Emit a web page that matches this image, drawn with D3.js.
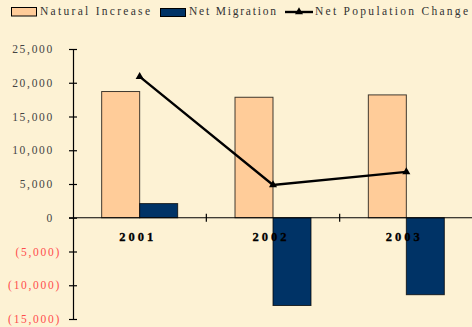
<!DOCTYPE html>
<html><head><meta charset="utf-8">
<script src="https://cdn.jsdelivr.net/npm/d3@7"></script>
<style>
html,body{margin:0;padding:0;background:#FDF2D4;}
svg{display:block;}
text{font-family:"Liberation Serif","Times New Roman",serif;}
</style></head>
<body><svg id="c" width="472" height="327"></svg>
<script>
const categories = ["2001","2002","2003"];
const naturalIncrease = [18700, 17850, 18200];
const netMigration = [2100, -13000, -11400];
const netPopulationChange = [20900, 4850, 6800];
const yTicks = [25000,20000,15000,10000,5000,0,-5000,-10000,-15000];
const seriesNames = ["Natural Increase","Net Migration","Net Population Change"];

const svg = d3.select("#c");
const W = 472, H = 327;
const x0 = 73, x1 = 473;
const y = d3.scaleLinear().domain([-15000,25000]).range([319,49]);
const x = d3.scaleBand().domain(categories).range([x0,x1]).paddingInner(0).paddingOuter(0);
const bw = x.bandwidth()*0.285;

svg.append("rect").attr("width",W).attr("height",H).attr("fill","#FDF2D4");

// bars
const g = svg.append("g");
g.selectAll("rect.ni").data(categories).join("rect")
  .attr("x",d=>x(d)+x.bandwidth()/2-bw).attr("width",bw)
  .attr("y",(d,i)=>y(Math.max(0,naturalIncrease[i])))
  .attr("height",(d,i)=>Math.abs(y(naturalIncrease[i])-y(0)))
  .attr("fill","#FFCC99").attr("stroke","#000").attr("stroke-width",1).attr("stroke-opacity",0.75);
g.selectAll("rect.nm").data(categories).join("rect")
  .attr("x",d=>x(d)+x.bandwidth()/2).attr("width",bw)
  .attr("y",(d,i)=>y(Math.max(0,netMigration[i])))
  .attr("height",(d,i)=>Math.abs(y(netMigration[i])-y(0)))
  .attr("fill","#003366").attr("stroke","#000").attr("stroke-width",1).attr("stroke-opacity",0.75);

// y axis
const yAxis = d3.axisLeft(y).tickValues(yTicks).tickSize(0).tickPadding(0)
  .tickFormat(d=> d<0 ? "("+d3.format(",")(-d)+")" : d3.format(",")(d));
const ya = svg.append("g").attr("transform",`translate(${x0},0)`).call(yAxis);
ya.select(".domain").attr("stroke","#000").attr("stroke-width",1.2);
ya.selectAll(".tick line").attr("x1",-4).attr("x2",4).attr("stroke","#000").attr("stroke-width",1.2);
ya.selectAll(".tick text")
  .attr("x",d=> d<0 ? -12 : -19)
  .attr("dy","0.32em")
  .attr("font-size",11.5)
  .attr("letter-spacing",1.7)
  .attr("font-family","Liberation Serif, serif")
  .attr("fill",d=> d<0 ? "#FF4D4D" : "#444");

// x axis at zero
const xa = svg.append("g").attr("transform",`translate(0,${y(0)})`);
xa.append("line").attr("x1",x0-4).attr("x2",W).attr("stroke","#000").attr("stroke-width",1.2);
xa.selectAll("line.t").data(categories.slice(1)).join("line")
  .attr("x1",d=>x(d)).attr("x2",d=>x(d)).attr("y1",-4).attr("y2",4)
  .attr("stroke","#000").attr("stroke-width",1.2);
svg.selectAll("text.cat").data(categories).join("text")
  .attr("x",d=>x(d)+x.bandwidth()/2 -2).attr("y",241)
  .attr("text-anchor","middle").attr("font-weight","bold").attr("font-size",12.5)
  .attr("letter-spacing",3).attr("fill","#000")
  .attr("stroke","#000").attr("stroke-width",0.3)
  .text(d=>d);

// line
const line = d3.line().x((d,i)=>x(categories[i])+x.bandwidth()/2).y(d=>y(d));
svg.append("path").datum(netPopulationChange).attr("d",line)
  .attr("fill","none").attr("stroke","#000").attr("stroke-width",2.4);
const tri = d3.symbol().type(d3.symbolTriangle).size(28);
svg.selectAll("path.mk").data(netPopulationChange).join("path")
  .attr("d",tri)
  .attr("transform",(d,i)=>`translate(${x(categories[i])+x.bandwidth()/2},${y(d)})`)
  .attr("fill","#000");

// legend
const lg = svg.append("g");
lg.append("rect").attr("x",11.5).attr("y",7.5).attr("width",25).attr("height",8.5)
  .attr("fill","#FFCC99").attr("stroke","#000");
lg.append("rect").attr("x",160.5).attr("y",8.5).attr("width",25).attr("height",8)
  .attr("fill","#003366").attr("stroke","#000");
lg.append("line").attr("x1",285).attr("x2",313).attr("y1",12).attr("y2",12)
  .attr("stroke","#000").attr("stroke-width",2.4);
lg.append("path").attr("d",tri).attr("transform","translate(299,12)").attr("fill","#000");
const lx = [[40,110],[189,87],[315,153]];
lg.selectAll("text").data(seriesNames).join("text")
  .attr("x",(d,i)=>lx[i][0]).attr("y",15)
  .attr("textLength",(d,i)=>lx[i][1]).attr("lengthAdjust","spacing")
  .attr("font-size",11.5).attr("fill","#333")
  .text(d=>d);
</script></body></html>
